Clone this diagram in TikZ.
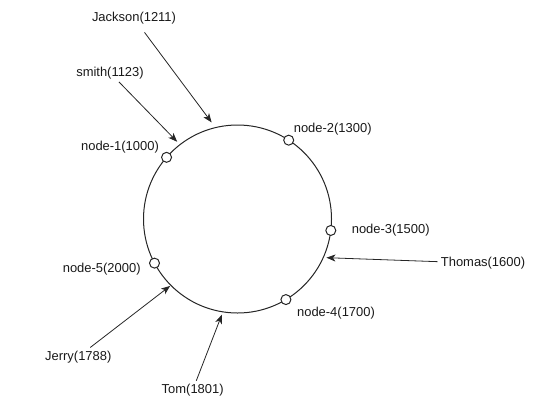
\documentclass[tikz,border=0pt]{standalone}
\usepackage{fontspec}
\setmainfont{Liberation Sans}
\usetikzlibrary{arrows.meta, positioning, calc}

\begin{document}
\begin{tikzpicture}[
  x=1bp, y=1bp,
  ring/.style={circle, draw=black!85, line width=1bp, minimum size=188bp, inner sep=0pt, outer sep=0pt},
  dot/.style={circle, draw=black!85, fill=white, line width=1bp, minimum size=10bp, inner sep=0pt},
  lbl/.style={font=\fontsize{13}{15}\selectfont, text=black!90, inner sep=3bp},
  arr/.style={-{Stealth[length=9bp, width=7bp, inset=2.5bp]}, line width=0.8bp, black!85}
]
  \useasboundingbox (0,0) rectangle (540,417);
  \node[ring] (hash) at (237.5,198) {};
  \node[dot] (n1) at (hash.139.5) {};
  \node[dot] (n2) at (hash.57) {};
  \node[dot] (n3) at (hash.-7) {};
  \node[dot] (n4) at (hash.-59) {};
  \node[dot] (n5) at (hash.208) {};
  \node[lbl] (l1) at (120,270) {node-1(1000)};
  \node[lbl] (l2) at (332.7,287.7) {node-2(1300)};
  \node[lbl] (l3) at (390.7,187) {node-3(1500)};
  \node[lbl] (l4) at (336,103.7) {node-4(1700)};
  \node[lbl] (l5) at (101.7,147.7) {node-5(2000)};
  \node[lbl] (jackson) at (134,398.7) {Jackson(1211)};
  \node[lbl] (smith) at (110,344.3) {smith(1123)};
  \node[lbl] (thomas) at (483,153.7) {Thomas(1600)};
  \node[lbl] (tom) at (192.7,27) {Tom(1801)};
  \node[lbl] (jerry) at (78.3,60.3) {Jerry(1788)};
  \coordinate (k-jackson) at ($(hash.center)+(105:100)$);
  \coordinate (k-smith) at ($(hash.center)+(128:98)$);
  \coordinate (k-thomas) at ($(hash.center)+(-23.5:97)$);
  \coordinate (k-tom) at ($(hash.center)+(260.7:97)$);
  \coordinate (k-jerry) at ($(hash.center)+(224.8:95)$);
  \draw[arr, shorten <=6bp] (jackson) -- (k-jackson);
  \draw[arr] (smith) -- (k-smith);
  \draw[arr] (thomas) -- (k-thomas);
  \draw[arr] (tom) -- (k-tom);
  \draw[arr] (jerry) -- (k-jerry);
\end{tikzpicture}
\end{document}
